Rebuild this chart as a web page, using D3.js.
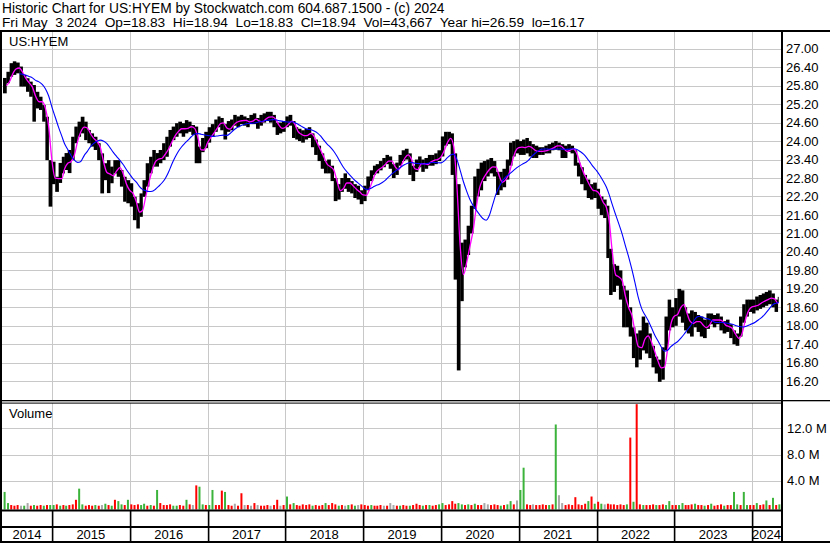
<!DOCTYPE html>
<html><head><meta charset="utf-8">
<script src="https://cdn.jsdelivr.net/npm/d3@7"></script>
<style>
body{margin:0;background:#fff}
svg{display:block;font-family:"Liberation Sans",Arial,sans-serif}
text{white-space:pre}
</style>
</head><body>
<svg id="c" width="830" height="543"></svg>
<script>
// ---------------- data ----------------
const symbol = "US:HYEM";
const headerLine1 = "Historic Chart for US:HYEM by Stockwatch.com 604.687.1500 - (c) 2024";
const headerLine2 = "Fri May  3 2024  Op=18.83  Hi=18.94  Lo=18.83  Cl=18.94  Vol=43,667  Year hi=26.59  lo=16.17";
const volumeTitle = "Volume";
const yearLabels = ["2014","2015","2016","2017","2018","2019","2020","2021","2022","2023","2024"];
const yearStarts = ["2015-01-01","2016-01-01","2017-01-01","2018-01-01","2019-01-01","2020-01-01","2021-01-01","2022-01-01","2023-01-01","2024-01-01"];
const priceTicks = [27.00,26.40,25.80,25.20,24.60,24.00,23.40,22.80,22.20,21.60,21.00,20.40,19.80,19.20,18.60,18.00,17.40,16.80,16.20];
const volumeTicks = [4, 8, 12];          // millions
const volumeTickLabels = ["4.0 M","8.0 M","12.0 M"];
const lastDate = "2024-05-03";
// semi-monthly periods (1st and 16th of each month) starting 2014-05-16
const priceHigh = [
 // 2014 (May16 .. Dec16)
 26.05,26.25,26.53,26.59,26.55,26.42,26.15,26.04,25.93,25.82,25.60,25.44,25.17,24.79,23.38,
 // 2015
 23.33,22.84,23.29,23.49,23.61,23.71,24.14,24.47,24.63,24.79,24.63,24.36,24.25,24.14,23.93,23.60,23.28,23.38,23.17,23.38,23.38,23.06,22.84,22.73,
 // 2016
 22.63,22.19,21.98,22.30,22.73,23.28,23.49,23.71,23.61,23.71,23.93,24.14,24.36,24.47,24.58,24.63,24.58,24.68,24.63,24.52,24.47,23.82,24.10,24.30,
 // 2017
 24.45,24.55,24.70,24.80,24.75,24.55,24.65,24.70,24.85,24.80,24.85,24.80,24.75,24.85,24.90,24.75,24.85,24.90,24.95,24.95,24.85,24.60,24.60,24.65,
 // 2018
 24.80,24.85,24.65,24.45,24.40,24.35,24.40,24.45,24.25,24.05,23.85,23.60,23.35,23.40,23.20,22.80,22.60,22.80,22.95,22.80,22.70,22.60,22.55,22.40,
 // 2019
 22.55,22.85,23.05,23.20,23.25,23.35,23.45,23.55,23.50,23.25,23.30,23.55,23.70,23.75,23.60,23.20,23.40,23.50,23.40,23.45,23.55,23.55,23.60,23.70,
 // 2020
 24.15,24.30,24.30,24.25,23.60,22.60,20.70,20.80,21.25,21.90,22.85,23.10,23.30,23.35,23.40,23.45,23.35,23.00,23.00,23.10,23.40,23.95,24.00,24.05,
 // 2021
 24.00,24.05,24.10,24.00,23.90,23.85,23.80,23.80,23.85,23.90,23.95,24.00,23.95,23.90,23.85,23.90,23.85,23.70,23.30,23.15,22.90,22.75,22.60,22.65,
 // 2022
 22.45,22.20,22.10,21.90,20.50,20.00,19.95,19.80,19.30,19.15,18.60,17.95,17.75,17.85,18.30,18.10,17.75,17.35,17.00,16.90,17.30,18.30,18.85,18.60,
 // 2023
 18.90,19.20,19.15,18.60,18.40,18.50,18.45,18.35,18.30,18.20,18.40,18.40,18.35,18.40,18.30,18.15,18.20,18.05,17.85,17.75,18.30,18.70,18.85,18.85,
 // 2024 (Jan1 .. May1)
 18.85,18.95,19.00,19.05,19.10,19.15,19.05,18.85,18.94
];
const priceLow = [
 25.55,25.88,26.09,26.15,26.20,25.77,25.77,25.60,25.44,24.63,25.06,25.01,24.63,23.38,21.87,
 22.60,22.35,22.64,22.95,23.06,22.96,23.38,23.93,24.14,24.25,24.03,23.93,23.82,23.71,23.38,22.30,22.73,22.31,22.63,22.95,22.84,22.52,22.03,21.98,
 21.87,21.43,21.16,21.54,22.19,22.52,22.95,23.17,23.17,23.28,23.38,23.49,23.82,24.03,24.14,24.25,24.14,24.25,24.30,24.20,23.28,23.28,23.64,23.77,
 23.95,24.15,24.30,24.45,24.35,24.05,24.30,24.35,24.50,24.45,24.55,24.50,24.45,24.55,24.55,24.40,24.50,24.60,24.65,24.60,24.45,24.20,24.25,24.30,
 24.45,24.50,24.10,24.05,24.00,23.95,24.05,24.10,23.80,23.55,23.35,23.10,22.95,22.95,22.70,22.05,22.10,22.35,22.45,22.35,22.30,22.15,22.10,21.95,
 22.05,22.40,22.70,22.90,22.95,23.05,23.15,23.25,23.10,22.80,22.90,23.20,23.35,23.40,22.90,22.70,23.00,23.15,23.00,23.10,23.20,23.20,23.25,23.35,
 23.50,23.85,23.90,22.90,19.50,16.55,18.80,19.90,20.30,21.00,21.80,22.20,22.40,22.70,22.85,22.95,22.85,22.25,22.40,22.50,22.75,23.20,23.50,23.60,
 23.55,23.55,23.60,23.50,23.45,23.45,23.55,23.55,23.60,23.60,23.70,23.72,23.70,23.45,23.45,23.65,23.60,23.20,22.85,22.60,22.40,22.15,22.10,22.15,
 21.80,21.60,21.50,20.20,19.00,19.10,19.30,18.85,17.95,17.95,17.65,16.95,16.65,16.90,17.20,17.10,16.95,16.65,16.45,16.18,16.25,17.20,17.85,17.95,
 18.00,18.30,18.10,17.85,17.75,17.65,17.95,17.80,17.65,17.60,17.90,18.05,17.95,18.05,17.85,17.75,17.80,17.60,17.40,17.35,17.65,18.10,18.30,18.45,
 18.40,18.50,18.55,18.60,18.65,18.70,18.60,18.45,18.75
];
// volume per period, millions of shares
const volumeM = [
 2.3,0.6,0.3,0.2,0.3,0.2,0.2,0.6,0.2,0.3,0.2,0.3,0.2,0.3,0.3,
 0.3,0.4,0.2,0.3,0.2,0.3,0.4,1.1,2.8,0.4,0.2,0.3,0.2,0.3,0.2,0.3,0.5,0.3,0.2,1.1,0.9,0.4,0.3,1.1,
 0.4,0.3,0.4,0.3,0.5,0.2,0.3,0.2,2.6,0.6,0.3,0.3,0.4,0.2,0.2,0.3,0.2,1.1,0.4,0.3,3.3,3.1,0.4,0.3,
 0.3,2.6,0.3,0.3,2.5,2.3,0.3,0.2,0.5,0.2,2.1,0.3,0.3,0.2,0.6,0.3,0.2,0.2,0.3,0.2,0.3,1.1,0.2,0.3,
 1.6,0.4,0.6,0.3,0.2,0.4,0.3,0.4,0.2,0.3,0.2,0.3,0.6,0.3,0.6,0.4,0.2,0.3,0.2,0.3,0.4,0.2,0.3,0.4,
 0.3,0.2,0.3,0.2,0.2,0.3,0.2,0.2,0.6,0.3,0.2,0.2,0.3,0.2,0.2,0.3,0.5,0.3,0.2,0.3,0.3,0.2,0.3,0.4,
 0.6,0.3,0.4,0.9,0.5,0.6,0.4,0.3,0.4,0.3,0.5,0.3,0.3,0.6,0.4,0.3,0.4,0.3,0.2,0.3,0.4,0.9,0.4,1.0,
 2.6,6.0,0.4,0.3,0.4,0.3,0.3,0.4,0.3,0.3,0.4,12.6,1.8,0.6,0.3,0.4,0.3,1.5,0.4,0.3,0.5,0.9,1.6,0.5,
 0.8,0.5,0.4,0.5,0.4,0.4,0.3,0.4,0.3,0.4,10.6,0.8,15.7,0.4,0.3,0.3,0.3,0.4,0.3,0.3,0.4,0.3,0.9,0.3,
 0.3,0.3,0.6,0.3,0.3,0.4,0.5,0.3,0.3,0.2,0.3,0.5,0.2,0.3,0.4,0.2,0.3,0.3,2.3,0.4,0.3,2.3,0.3,0.3,
 0.3,0.6,0.3,0.4,1.0,0.3,1.4,0.3,0.4
];
// g = up, r = down, n = unchanged
const volumeColor = (
 "ggrrrngnrgrrgrg" +
 "grgrgrrrggrrrgrngrgrggrg" +
 "rrrggrgrgrrrrggrrgrnrggr" +
 "ggrrrgrrnrrnrnrnrrrnrrnr" +
 "grgrrrrrgrrrgrrrgrngrgnr" +
 "rrgrrrnrnnrgrrgrrrgrgrrg" +
 "grrrrggrgrgrrnnrrrgrggrn" +
 "ggrrnrrrrgrgnnrrrrrrrgrg" +
 "rgnrrrrrrgrgrrgrrrgrrggr" +
 "rggrrrgrrgrgrrrgrrggrggr" +
 "rgrrgrgrg").split("");

// ---------------- layout ----------------
const W = 830, H = 543;
const plotL = 2, plotR = 781;
const priceTop = 32, priceBot = 400;
const volTop = 403, volBot = 509.5;
const gridCol = "#c8c8c8";
const colMap = {g:"#3cb43c", r:"#ff0000", n:"#a8a8a8"};

const parse = d3.timeParse("%Y-%m-%d");
const periodDates = d3.range(priceHigh.length).map(i =>
  new Date(2014, 4 + Math.floor((i + 1) / 2), i % 2 === 0 ? 16 : 1));
const endDate = d3.timeDay.offset(parse(lastDate), 1);
const periodEnd = periodDates.map((d, i) => periodDates[i + 1] || endDate);
const yearDates = yearStarts.map(parse);

const x = d3.scaleTime().domain([yearDates[0], yearDates[yearDates.length - 1]]).range([52, 752]);
const y = d3.scaleLinear().domain([16.2, 27.0]).range([381.2, 48.7]);
const yv = d3.scaleLinear().domain([0, 12]).range([507, 428.4]);

const svg = d3.select("#c");
svg.append("rect").attr("width", W).attr("height", H).attr("fill", "#fff");

// header
svg.append("text").attr("x", 2).attr("y", 12.5).attr("font-size", 13.75).attr("xml:space", "preserve").text(headerLine1);
svg.append("text").attr("x", 2).attr("y", 27).attr("font-size", 13.7).attr("xml:space", "preserve").text(headerLine2);

// gridlines
const grid = svg.append("g").attr("stroke", gridCol).attr("stroke-width", 1).attr("shape-rendering", "crispEdges");
grid.selectAll(".hp").data(priceTicks).join("line")
  .attr("x1", plotL).attr("x2", plotR)
  .attr("y1", d => Math.round(y(d)) + 0.5).attr("y2", d => Math.round(y(d)) + 0.5);
grid.selectAll(".hv").data(volumeTicks).join("line")
  .attr("x1", plotL).attr("x2", plotR)
  .attr("y1", d => Math.round(yv(d)) + 0.5).attr("y2", d => Math.round(yv(d)) + 0.5);
grid.selectAll(".vp").data(yearDates).join("line")
  .attr("x1", d => Math.round(x(d)) + 0.5).attr("x2", d => Math.round(x(d)) + 0.5)
  .attr("y1", priceTop).attr("y2", priceBot);
grid.selectAll(".vv").data(yearDates).join("line")
  .attr("x1", d => Math.round(x(d)) + 0.5).attr("x2", d => Math.round(x(d)) + 0.5)
  .attr("y1", volTop).attr("y2", volBot);

// price bars
svg.append("clipPath").attr("id", "pc").append("rect")
  .attr("x", plotL).attr("y", priceTop).attr("width", plotR - plotL).attr("height", priceBot - priceTop);
const pg = svg.append("g").attr("clip-path", "url(#pc)");
pg.selectAll("rect.bar").data(priceHigh).join("rect")
  .attr("x", (d, i) => x(periodDates[i]))
  .attr("width", (d, i) => x(periodEnd[i]) - x(periodDates[i]) + 0.3)
  .attr("y", (d, i) => y(d))
  .attr("height", (d, i) => Math.max(1, y(priceLow[i]) - y(d)))
  .attr("fill", "#000");

// moving averages (computed from the period mid prices)
const mid = priceHigh.map((h, i) => (h + priceLow[i]) / 2);
const sma = n => mid.map((_, i) => d3.mean(mid.slice(Math.max(0, i - n + 1), i + 1)));
const maFast = sma(2), maSlow = sma(10);
const line = d3.line().x((d, i) => x(periodEnd[i])).y(d => y(d)).curve(d3.curveMonotoneX);
pg.append("path").attr("d", line(maFast)).attr("fill", "none").attr("stroke", "#ff00ff").attr("stroke-width", 1.3);
pg.append("path").attr("d", line.defined((d, i) => i >= 4)(maSlow)).attr("fill", "none").attr("stroke", "#0000ff").attr("stroke-width", 1.1);

// volume bars
svg.append("g").selectAll("rect").data(volumeM).join("rect")
  .attr("x", (d, i) => x(periodDates[i]) + 0.6)
  .attr("width", 2)
  .attr("y", d => yv(d))
  .attr("height", d => volBot - yv(d))
  .attr("fill", (d, i) => colMap[volumeColor[i]]);

// frame lines
const blk = (x0, y0, w, h) => svg.append("rect").attr("x", x0).attr("y", y0).attr("width", w).attr("height", h).attr("fill", "#000");
blk(0, 30, W, 2);            // header separator
blk(0, 30, 2, 513);          // left edge
blk(781, 30, 2, 512);        // right axis
blk(0, 400, W, 1.3);         // price panel bottom
blk(0, 402.6, 783, 1);       // volume panel top
blk(0, 509.5, 783, 2);       // volume panel bottom
blk(0, 526, 783, 2);         // date row separator
blk(0, 541, W, 2);           // bottom

// year separators in the date rows
svg.append("g").selectAll("rect").data(yearDates).join("rect")
  .attr("x", d => Math.round(x(d)) - 0.2).attr("width", 1.6)
  .attr("y", 511).attr("height", 30).attr("fill", "#000");

// year labels
const bounds = [plotL, ...yearDates.map(d => x(d)), plotR];
svg.append("g").selectAll("text").data(yearLabels).join("text")
  .attr("x", (d, i) => (bounds[i] + bounds[i + 1]) / 2)
  .attr("y", 539).attr("text-anchor", "middle").attr("font-size", 13).text(d => d);

// price axis labels
svg.append("g").selectAll("text").data(priceTicks).join("text")
  .attr("x", 786).attr("y", d => y(d) + 4.6).attr("font-size", 13).text(d => d.toFixed(2));

// volume axis labels
svg.append("g").selectAll("text").data(volumeTicks).join("text")
  .attr("x", 787).attr("y", d => yv(d) + 4.6).attr("font-size", 13).text((d, i) => volumeTickLabels[i]);

// panel titles
svg.append("text").attr("x", 9).attr("y", 46).attr("font-size", 13).text(symbol);
svg.append("text").attr("x", 9).attr("y", 417.5).attr("font-size", 13).text(volumeTitle);
</script>
</body></html>
